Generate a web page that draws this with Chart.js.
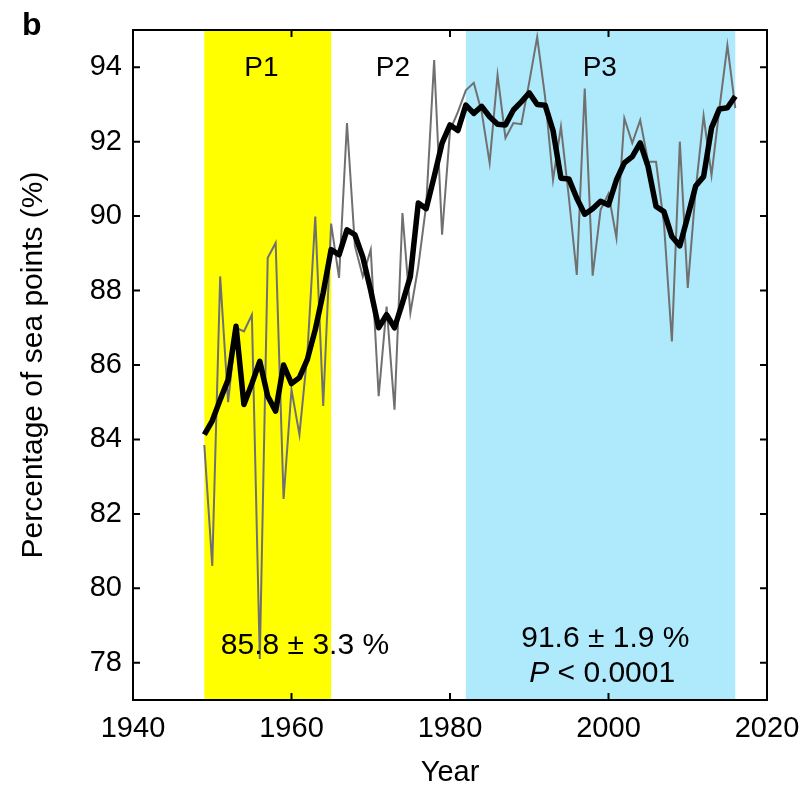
<!DOCTYPE html>
<html>
<head>
<meta charset="utf-8">
<script src="https://cdn.jsdelivr.net/npm/chart.js@4"></script>
<style>
  body { margin: 0; background: #fff; }
  canvas { display: block; }
</style>
</head>
<body>
<canvas id="myChart" width="805" height="790"></canvas>
<script>
// years of the record
var years = [1949, 1950, 1951, 1952, 1953, 1954, 1955, 1956, 1957, 1958,
    1959, 1960, 1961, 1962, 1963, 1964, 1965, 1966, 1967, 1968,
    1969, 1970, 1971, 1972, 1973, 1974, 1975, 1976, 1977, 1978,
    1979, 1980, 1981, 1982, 1983, 1984, 1985, 1986, 1987, 1988,
    1989, 1990, 1991, 1992, 1993, 1994, 1995, 1996, 1997, 1998,
    1999, 2000, 2001, 2002, 2003, 2004, 2005, 2006, 2007, 2008,
    2009, 2010, 2011, 2012, 2013, 2014, 2015, 2016];

// annual values (grey)
var annual = [83.85, 80.6, 88.38, 85.0, 87.0, 86.9, 87.35, 78.1, 88.88, 89.28,
    82.4, 85.34, 84.13, 86.3, 89.99, 84.9, 89.8, 88.34, 92.5, 89.2,
    88.38, 89.1, 85.16, 87.57, 84.8, 90.08, 87.4, 88.65, 90.3, 94.19,
    89.5, 92.3, 92.8, 93.38, 93.58, 92.8, 91.43, 93.79, 92.1, 92.5,
    92.47, 93.6, 94.81, 93.2, 90.97, 92.4, 90.5, 88.42, 93.43, 88.4,
    90.17, 90.6, 89.42, 92.63, 91.96, 92.58, 91.46, 91.46, 89.8, 86.63,
    92.0, 88.07, 90.7, 92.69, 91.1, 92.9, 94.59, 92.9];

// smoothed values (black)
var smoothed = [84.13, 84.5, 85.07, 85.6, 87.04, 84.94, 85.5, 86.1, 85.16, 84.76,
    86.0, 85.5, 85.66, 86.15, 86.95, 87.94, 89.1, 88.96, 89.63, 89.5,
    88.9, 88.0, 87.0, 87.35, 87.0, 87.67, 88.38, 90.35, 90.2, 91.06,
    91.96, 92.45, 92.3, 92.98, 92.76, 92.95, 92.67, 92.47, 92.45, 92.85,
    93.07, 93.31, 93.0, 92.98, 92.3, 91.02, 91.0, 90.48, 90.05, 90.2,
    90.4, 90.3, 90.97, 91.43, 91.6, 91.97, 91.33, 90.26, 90.12, 89.45,
    89.2, 89.99, 90.81, 91.06, 92.37, 92.88, 92.91, 93.22];

var xTickValues = [1940, 1960, 1980, 2000, 2020];
var yTickValues = [78, 80, 82, 84, 86, 88, 90, 92, 94];

// shaded periods [start, end]
var p1Range = [1949, 1965];
var p3Range = [1982, 2016];

// period labels: text, year, value
var periodLabels = ['P1', 'P2', 'P3'];
var periodLabelX = [1956.2, 1972.8, 1998.9];
var periodLabelY = 93.97;

// stats text
var p1Stat = '85.8 \u00b1 3.3 %';
var p1StatPos = [1961.7, 78.45];
var p3Stat = '91.6 \u00b1 1.9 %';
var p3StatPos = [1999.6, 78.64];
var pValueText = ' < 0.0001';
var pValuePos = [1999.2, 77.7];

var FONT = '"Liberation Sans", Arial, Helvetica, sans-serif';

var bandsPlugin = {
    id: 'bands',
    beforeDatasetsDraw: function (chart) {
        var ctx = chart.ctx;
        var x = chart.scales.x;
        var a = chart.chartArea;
        ctx.save();
        ctx.fillStyle = '#ffff00';
        var l = x.getPixelForValue(p1Range[0]);
        ctx.fillRect(l, a.top, x.getPixelForValue(p1Range[1]) - l, a.bottom - a.top);
        ctx.fillStyle = '#aeeafc';
        l = x.getPixelForValue(p3Range[0]);
        ctx.fillRect(l, a.top, x.getPixelForValue(p3Range[1]) - l, a.bottom - a.top);
        ctx.restore();
    }
};

var framePlugin = {
    id: 'frame',
    afterDraw: function (chart) {
        var ctx = chart.ctx;
        var x = chart.scales.x;
        var y = chart.scales.y;
        var a = chart.chartArea;
        ctx.save();
        ctx.strokeStyle = '#000';
        ctx.lineWidth = 2;
        ctx.strokeRect(a.left, a.top, a.right - a.left, a.bottom - a.top);
        ctx.beginPath();
        var tl = 7;
        for (var i = 0; i < xTickValues.length; i++) {
            var px = x.getPixelForValue(xTickValues[i]);
            ctx.moveTo(px, a.bottom);
            ctx.lineTo(px, a.bottom - tl);
            ctx.moveTo(px, a.top);
            ctx.lineTo(px, a.top + tl);
        }
        for (var j = 0; j < yTickValues.length; j++) {
            var py = y.getPixelForValue(yTickValues[j]);
            ctx.moveTo(a.left, py);
            ctx.lineTo(a.left + tl, py);
            ctx.moveTo(a.right, py);
            ctx.lineTo(a.right - tl, py);
        }
        ctx.stroke();

        ctx.fillStyle = '#000';
        ctx.textAlign = 'center';
        ctx.textBaseline = 'middle';
        ctx.font = '28px ' + FONT;
        for (var k = 0; k < periodLabels.length; k++) {
            ctx.fillText(periodLabels[k], x.getPixelForValue(periodLabelX[k]), y.getPixelForValue(periodLabelY));
        }
        ctx.font = '30px ' + FONT;
        ctx.fillText(p1Stat, x.getPixelForValue(p1StatPos[0]), y.getPixelForValue(p1StatPos[1]));
        ctx.fillText(p3Stat, x.getPixelForValue(p3StatPos[0]), y.getPixelForValue(p3StatPos[1]));

        // italic P followed by the rest
        var italic = 'italic 30px ' + FONT;
        var normal = '30px ' + FONT;
        ctx.font = italic;
        var wP = ctx.measureText('P').width;
        ctx.font = normal;
        var wRest = ctx.measureText(pValueText).width;
        var cx = x.getPixelForValue(pValuePos[0]);
        var cy = y.getPixelForValue(pValuePos[1]);
        var startX = cx - (wP + wRest) / 2;
        ctx.textAlign = 'left';
        ctx.font = italic;
        ctx.fillText('P', startX, cy);
        ctx.font = normal;
        ctx.fillText(pValueText, startX + wP, cy);

        // panel letter
        ctx.font = 'bold 32px ' + FONT;
        ctx.textBaseline = 'alphabetic';
        ctx.fillText('b', 22, 35);
        ctx.restore();
    }
};

var ctx = document.getElementById('myChart').getContext('2d');
var myChart = new Chart(ctx, {
    type: 'line',
    data: {
        labels: years,
        datasets: [{
            label: 'Smoothed',
            data: smoothed,
            borderColor: '#000000',
            borderWidth: 5.5,
            borderJoinStyle: 'round',
            pointRadius: 0,
            fill: false,
            tension: 0
        }, {
            label: 'Annual',
            data: annual,
            borderColor: '#707070',
            borderWidth: 2,
            pointRadius: 0,
            fill: false,
            tension: 0
        }]
    },
    options: {
        responsive: false,
        devicePixelRatio: 1,
        animation: false,
        layout: {
            padding: { top: 30, right: 38, left: 0, bottom: 0 }
        },
        plugins: {
            legend: { display: false },
            tooltip: { enabled: false }
        },
        scales: {
            x: {
                type: 'linear',
                min: 1940,
                max: 2020,
                afterBuildTicks: function (scale) {
                    scale.ticks = xTickValues.map(function (v) { return { value: v }; });
                },
                afterFit: function (scale) {
                    scale.height = 90;
                    scale.paddingLeft = 0;
                    scale.paddingRight = 0;
                },
                grid: { display: false, drawTicks: false },
                border: { display: false },
                ticks: {
                    color: '#000',
                    font: { family: FONT, size: 29 },
                    padding: 12,
                    maxRotation: 0,
                    callback: function (v) { return String(v); }
                },
                title: {
                    display: true,
                    text: 'Year',
                    color: '#000',
                    font: { family: FONT, size: 29 },
                    padding: { top: 0, bottom: 0 }
                }
            },
            y: {
                min: 77,
                max: 95,
                afterBuildTicks: function (scale) {
                    scale.ticks = yTickValues.map(function (v) { return { value: v }; });
                },
                afterFit: function (scale) {
                    scale.width = 133;
                    scale.paddingTop = 0;
                    scale.paddingBottom = 0;
                },
                grid: { display: false, drawTicks: false },
                border: { display: false },
                ticks: {
                    color: '#000',
                    font: { family: FONT, size: 29 },
                    padding: 11
                },
                title: {
                    display: true,
                    text: 'Percentage of sea points (%)',
                    color: '#000',
                    font: { family: FONT, size: 30 },
                    padding: { top: 16, bottom: 0 }
                }
            }
        }
    },
    plugins: [bandsPlugin, framePlugin]
});
</script>
</body>
</html>
